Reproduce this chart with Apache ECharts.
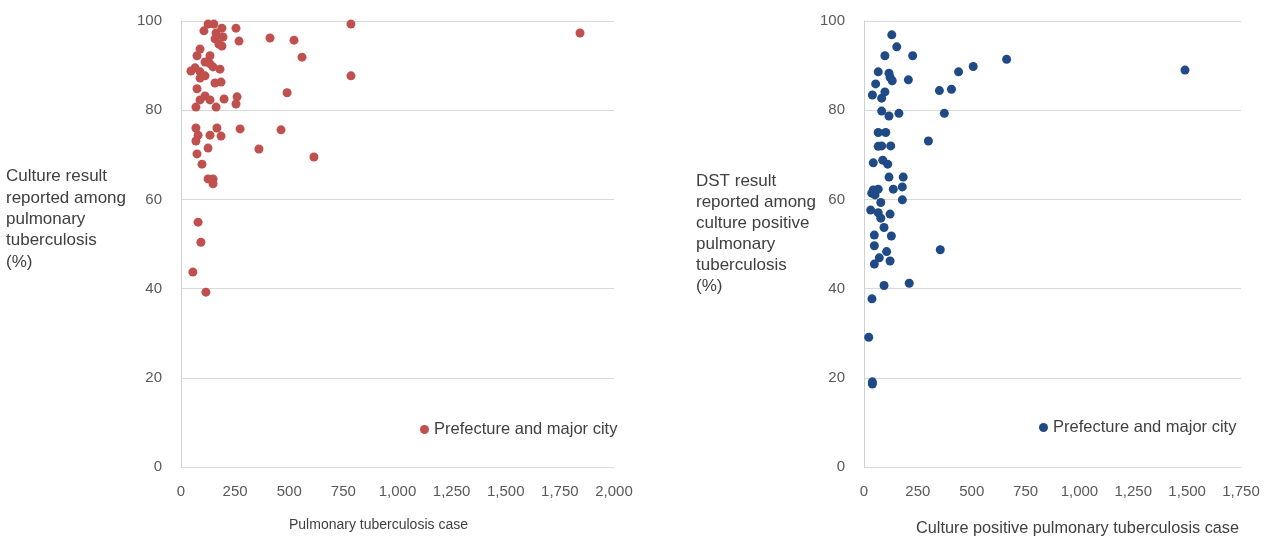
<!DOCTYPE html>
<html>
<head>
<meta charset="utf-8">
<script src="https://cdn.jsdelivr.net/npm/echarts@6/dist/echarts.min.js"></script>
<style>html,body{margin:0;padding:0;background:#fff}#c{width:1275px;height:537px}</style>
</head>
<body>
<div id="c"></div>
<script>
// Left: pulmonary TB cases vs culture result reported (%)
const leftCases = [125,152,106,189,254,162,194,157,268,175,189,411,522,559,785,785,1843,88,74,134,111,134,148,65,180,88,46,111,88,157,185,74,490,111,88,134,199,259,254,69,162,69,166,273,462,79,134,185,69,125,360,74,614,97,125,148,148,79,92,55,115];
const leftPct   = [99.3,99.3,97.8,98.4,98.4,97.3,96.4,96.0,95.5,94.8,94.4,96.2,95.7,91.9,99.3,87.7,97.3,93.7,92.2,92.2,90.8,90.4,89.7,89.5,89.2,88.6,88.8,87.7,87.2,86.1,86.3,84.8,83.9,83.2,82.3,82.3,82.5,83.0,81.4,80.7,80.7,76.0,76.0,75.8,75.6,74.4,74.4,74.2,73.1,71.5,71.3,70.2,69.5,67.9,64.6,64.6,63.5,54.9,50.4,43.7,39.2];
// Right: culture positive cases vs DST result reported (%)
const rightCases = [129,152,97,226,662,66,116,121,131,206,439,507,54,97,350,406,39,82,82,116,162,373,66,101,299,66,82,124,43,87,110,1490,116,182,178,136,43,66,36,51,78,178,31,66,78,121,93,48,127,48,105,71,121,48,354,210,93,37,22,39,39];
const rightPct   = [96.9,94.2,92.2,92.2,91.4,88.6,88.3,87.4,86.6,86.8,88.6,89.8,85.9,84.1,84.4,84.7,83.4,82.7,79.8,78.7,79.3,79.3,75.0,75.0,73.1,71.9,72.0,72.0,68.2,68.8,67.9,89.0,65.0,65.0,62.8,62.3,62.1,62.3,61.4,61.0,59.3,59.9,57.6,57.0,55.8,56.7,53.7,52.0,51.8,49.6,48.3,46.9,46.2,45.5,48.7,41.2,40.7,37.7,29.1,19.1,18.6];
const leftXTicks = {min:0, max:2000, interval:250};
const rightXTicks = {min:0, max:1750, interval:250};
const legendLabel = 'Prefecture and major city';

const FONT = 'Liberation Sans, Arial, sans-serif';
const fmt = v => v.toLocaleString('en-US');
const zip = (a,b) => a.map((v,i)=>[v,b[i]]);

const yAxisCommon = {
  type:'value', min:0, max:100, interval:20,
  axisLine:{show:true, lineStyle:{color:'#D0D0D0'}},
  axisTick:{show:false},
  axisLabel:{color:'#595959', fontSize:15, fontFamily:FONT, margin:19},
  splitLine:{show:true, lineStyle:{color:'#D9D9D9', width:1}}
};
const xAxisCommon = {
  type:'value',
  axisLine:{show:false},
  axisTick:{show:false},
  axisLabel:{color:'#595959', fontSize:15, fontFamily:FONT, margin:17, formatter:fmt},
  splitLine:{show:false}
};
const titleStyle = (size, lh) => ({fontSize:size, fontWeight:'normal', color:'#404040', fontFamily:FONT, lineHeight:lh});

const chart = echarts.init(document.getElementById('c'));
chart.setOption({
  animation:false,
  backgroundColor:'#fff',
  grid:[
    {left:181, top:21, width:433, bottom:70},
    {left:864, top:21, width:377, bottom:70}
  ],
  xAxis:[
    Object.assign({gridIndex:0}, xAxisCommon, leftXTicks),
    Object.assign({gridIndex:1}, xAxisCommon, rightXTicks)
  ],
  yAxis:[
    Object.assign({gridIndex:0}, yAxisCommon),
    Object.assign({gridIndex:1}, yAxisCommon)
  ],
  title:[
    {text:'Culture result\nreported among\npulmonary\ntuberculosis\n(%)', left:1, top:161,
     textStyle:titleStyle(17, 21.3)},
    {text:'DST result\nreported among\nculture positive\npulmonary\ntuberculosis\n(%)', left:691, top:166,
     textStyle:titleStyle(17, 21)},
    {text:'Pulmonary tuberculosis case', left:284, top:512,
     textStyle:titleStyle(14, 16)},
    {text:'Culture positive pulmonary tuberculosis case', left:911, top:515,
     textStyle:titleStyle(16.3, 18)}
  ],
  legend:[
    {data:['left'], left:415, top:416, icon:'circle', itemWidth:9, itemHeight:9, itemGap:5,
     formatter:()=>legendLabel, textStyle:{fontSize:16.5, color:'#404040', fontFamily:FONT}, selectedMode:false},
    {data:['right'], left:1034, top:414, icon:'circle', itemWidth:9, itemHeight:9, itemGap:5,
     formatter:()=>legendLabel, textStyle:{fontSize:16.5, color:'#404040', fontFamily:FONT}, selectedMode:false}
  ],
  series:[
    {name:'left', type:'scatter', xAxisIndex:0, yAxisIndex:0, symbolSize:9,
     itemStyle:{color:'#C0504D', opacity:1}, data:zip(leftCases,leftPct)},
    {name:'right', type:'scatter', xAxisIndex:1, yAxisIndex:1, symbolSize:9,
     itemStyle:{color:'#1F4A85', opacity:1}, data:zip(rightCases,rightPct)}
  ]
});
</script>
</body>
</html>
